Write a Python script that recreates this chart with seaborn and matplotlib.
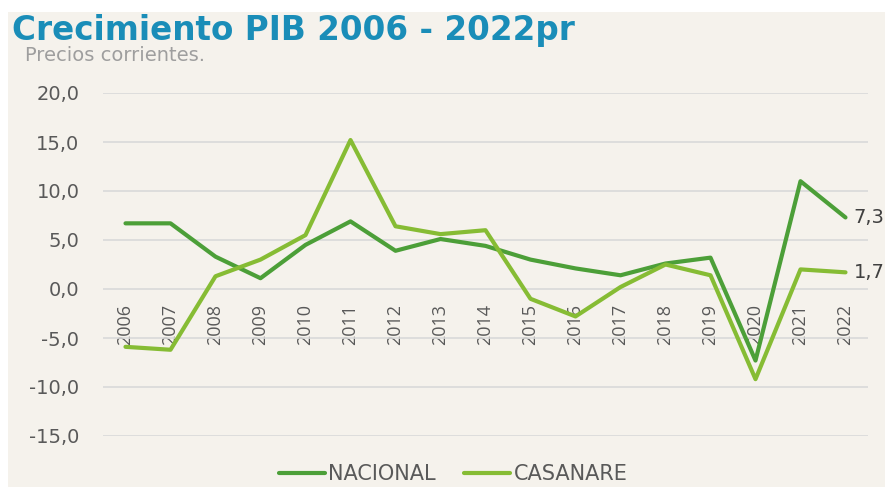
import pandas as pd
import numpy as np
import matplotlib
matplotlib.use("Agg")
import matplotlib.pyplot as plt
import seaborn as sns

years = [str(y) for y in range(2006, 2023)]
nacional = [6.7, 6.7, 3.3, 1.1, 4.5, 6.9, 3.9, 5.1, 4.4, 3.0, 2.1, 1.4, 2.6, 3.2, -7.3, 11.0, 7.3]
casanare = [-5.9, -6.2, 1.3, 3.0, 5.5, 15.2, 6.4, 5.6, 6.0, -1.0, -2.8, 0.2, 2.5, 1.4, -9.2, 2.0, 1.7]
yticks = [-15, -10, -5, 0, 5, 10, 15, 20]

df = pd.DataFrame({"year": years, "NACIONAL": nacional, "CASANARE": casanare})
df = df.melt(id_vars="year", var_name="serie", value_name="valor")

bg = "#F5F2EC"
grey = "#595959"
colors = {"NACIONAL": "#4C9F38", "CASANARE": "#86BC34"}

sns.set_style("white")
plt.rcParams["font.family"] = ["DejaVu Sans"]

fig = plt.figure(figsize=(8.85, 4.87), dpi=100)
fig.patch.set_facecolor("white")
# beige panel behind everything, white strip on top and left like the original
bg_ax = fig.add_axes([8 / 885, 0, 1 - 8 / 885, 1 - 12 / 487], zorder=-10)
bg_ax.set_facecolor(bg)
bg_ax.set_xticks([])
bg_ax.set_yticks([])
for s in bg_ax.spines.values():
    s.set_visible(False)

ax = fig.add_axes([103 / 885, 1 - 436 / 487, 765 / 885, 343 / 487])
ax.set_facecolor(bg)

sns.lineplot(data=df, x="year", y="valor", hue="serie", palette=colors,
             linewidth=3, ax=ax, sort=False, legend=True)

ax.set_xlim(-0.5, 16.5)
ax.set_ylim(-15, 20)
ax.set_yticks(yticks)
ax.set_yticklabels([f"{v:.1f}".replace(".", ",") for v in yticks])
ax.yaxis.grid(True, color="#D9D9D9", linewidth=1.2)
ax.set_axisbelow(True)
for s in ["top", "right", "left"]:
    ax.spines[s].set_visible(False)
ax.spines["bottom"].set_position(("data", 0))
ax.spines["bottom"].set_visible(False)
ax.tick_params(axis="y", length=0, pad=17, labelsize=14, labelcolor=grey)
ax.tick_params(axis="x", length=0, pad=11, labelsize=13, labelcolor=grey, labelrotation=90)
for lab in ax.get_xticklabels():
    lab.set_family("Open Sans")
ax.set_xlabel("")
ax.set_ylabel("")

ax.text(16.18, nacional[-1], "7,3", va="center", ha="left", fontsize=14, color="#404040")
ax.text(16.18, casanare[-1], "1,7", va="center", ha="left", fontsize=14, color="#404040")

leg = ax.legend(loc="center", bbox_to_anchor=(0.4575, -0.112), ncol=2, frameon=False,
                fontsize=15, handlelength=2.2, handletextpad=0.15, columnspacing=1.4,
                borderaxespad=0, borderpad=0)
for t in leg.get_texts():
    t.set_color(grey)

fig.text(12 / 885, 1 - 40 / 487, "Crecimiento PIB 2006 - 2022pr", fontsize=23.5, fontweight="bold",
         color="#1A8DB8", ha="left", va="baseline")
fig.text(25 / 885, 1 - 61 / 487, "Precios corrientes.", fontsize=14, color="#9E9E9E",
         ha="left", va="baseline")

fig.savefig("out.png", dpi=100, facecolor="white")
